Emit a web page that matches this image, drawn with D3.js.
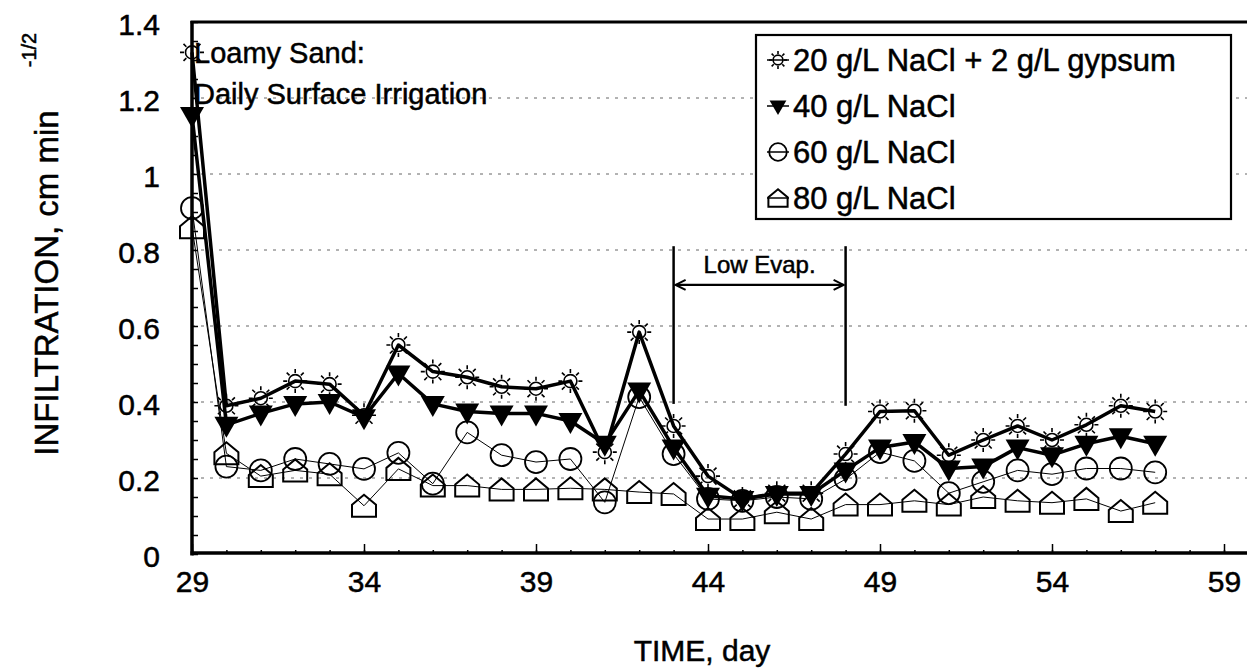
<!DOCTYPE html>
<html>
<head>
<meta charset="utf-8">
<script src="https://cdn.jsdelivr.net/npm/d3@7"></script>
<style>
  html, body { margin: 0; padding: 0; background: #fff; }
  svg { display: block; font-family: "Liberation Sans", Arial, Helvetica, sans-serif; }
  svg text { fill: #000; stroke: #000; stroke-width: 0.5px; }
</style>
</head>
<body>
<svg id="chart" width="1247" height="672"></svg>
<script>
// Days of irrigation
const days = d3.range(29, 58);

// Infiltration rate (cm min^-1/2) for each irrigation water
const gypsum20 = [1.32, 0.39, 0.41, 0.455, 0.447, 0.365, 0.55, 0.48, 0.465, 0.44, 0.435, 0.455, 0.268, 0.584,
  0.337, 0.205, 0.145, 0.16, 0.16, 0.263, 0.375, 0.377, 0.26, 0.30, 0.337, 0.30, 0.34, 0.39, 0.375];
const nacl40 = [1.155, 0.34, 0.37, 0.395, 0.40, 0.36, 0.475, 0.395, 0.375, 0.37, 0.37, 0.35, 0.29, 0.43,
  0.28, 0.153, 0.145, 0.158, 0.158, 0.22, 0.28, 0.295, 0.225, 0.23, 0.28, 0.26, 0.29, 0.31, 0.29];
const nacl60 = [0.91, 0.23, 0.22, 0.25, 0.237, 0.224, 0.266, 0.185, 0.32, 0.26, 0.242, 0.25, 0.136, 0.413,
  0.263, 0.145, 0.14, 0.15, 0.145, 0.197, 0.268, 0.245, 0.16, 0.19, 0.22, 0.21, 0.225, 0.225, 0.215];
const nacl80 = [0.86, 0.265, 0.205, 0.22, 0.21, 0.127, 0.224, 0.18, 0.18, 0.17, 0.17, 0.173, 0.17, 0.163,
  0.158, 0.092, 0.092, 0.11, 0.092, 0.13, 0.13, 0.14, 0.13, 0.15, 0.14, 0.135, 0.145, 0.113, 0.135];

const seriesNames = ["20 g/L NaCl + 2 g/L gypsum", "40 g/L NaCl", "60 g/L NaCl", "80 g/L NaCl"];

// Axis ticks
const xTicks = [29, 34, 39, 44, 49, 54, 59];
const yTicks = [0, 0.2, 0.4, 0.6, 0.8, 1, 1.2, 1.4];
const yTickLabels = ["0", "0.2", "0.4", "0.6", "0.8", "1", "1.2", "1.4"];

// Low evaporation period (days)
const lowEvap = [43, 48];

const svg = d3.select("#chart");
const x = d3.scaleLinear().domain([29, 59]).range([192, 1224]);
const y = d3.scaleLinear().domain([0, 1.4]).range([554, 22]);
const plotRight = 1247;

// Horizontal grid
svg.append("g").selectAll("line")
  .data(yTicks.filter(v => v > 0 && v < 1.4))
  .join("line")
  .attr("x1", x(29)).attr("x2", plotRight)
  .attr("y1", d => y(d)).attr("y2", d => y(d))
  .attr("stroke", "#666").attr("stroke-width", 1)
  .attr("stroke-dasharray", "3,6");

// Minor ticks (inside the frame)
svg.append("g").attr("transform", `translate(${x(29)},0)`)
  .call(d3.axisRight(y).tickValues(d3.range(0, 1.4001, 0.05)).tickSize(6).tickFormat(""))
  .call(g => g.select(".domain").remove())
  .call(g => g.selectAll("line").attr("stroke", "#000").attr("stroke-width", 1.5));

svg.append("g").attr("transform", `translate(0,${y(0)})`)
  .call(d3.axisTop(x).tickValues(d3.range(29, 60)).tickSize(4).tickFormat(""))
  .call(g => g.select(".domain").remove())
  .call(g => g.selectAll("line").attr("stroke", "#000").attr("stroke-width", 1.5));

svg.append("g").attr("transform", `translate(0,${y(0)})`)
  .call(d3.axisTop(x).tickValues(xTicks).tickSize(10).tickFormat(""))
  .call(g => g.select(".domain").remove())
  .call(g => g.selectAll("line").attr("stroke", "#000").attr("stroke-width", 1.5));

// Tick labels
svg.append("g").attr("transform", `translate(${x(29)},0)`)
  .call(d3.axisLeft(y).tickValues(yTicks).tickSize(0).tickPadding(32)
    .tickFormat((d, i) => yTickLabels[i]))
  .call(g => g.select(".domain").remove())
  .call(g => g.selectAll("text").attr("font-size", 30).attr("fill", "#000")
    .attr("font-family", "Liberation Sans, Arial, sans-serif").attr("dy", "0.42em"));

svg.append("g").attr("transform", `translate(0,${y(0)})`)
  .call(d3.axisBottom(x).tickValues(xTicks).tickSize(0).tickPadding(17).tickFormat(d3.format("d")))
  .call(g => g.select(".domain").remove())
  .call(g => g.selectAll("text").attr("font-size", 30).attr("fill", "#000")
    .attr("font-family", "Liberation Sans, Arial, sans-serif"));

// Frame
const frame = svg.append("g").attr("stroke", "#000").attr("fill", "none");
frame.append("line").attr("x1", x(29)).attr("x2", x(29)).attr("y1", y(1.4) - 1).attr("y2", y(0) + 1.5).attr("stroke-width", 3.5);
frame.append("line").attr("x1", x(29) - 1.5).attr("x2", plotRight).attr("y1", y(1.4)).attr("y2", y(1.4)).attr("stroke-width", 3);
frame.append("line").attr("x1", x(29) - 1.5).attr("x2", plotRight).attr("y1", y(0) - 1).attr("y2", y(0) - 1).attr("stroke-width", 3.5);

// Marker shapes
function sunMarker(g, s) {
  g.append("circle").attr("r", 6.5 * s).attr("fill", "none").attr("stroke", "#000").attr("stroke-width", 1.6);
  let p = "";
  for (let k = 0; k < 8; k++) {
    const a = k * Math.PI / 4;
    p += `M${(8 * s * Math.cos(a)).toFixed(2)},${(8 * s * Math.sin(a)).toFixed(2)}L${(12 * s * Math.cos(a)).toFixed(2)},${(12 * s * Math.sin(a)).toFixed(2)}`;
  }
  g.append("path").attr("d", p).attr("stroke", "#000").attr("stroke-width", 1.6);
}
function triMarker(g, s) {
  g.append("path").attr("d", `M${-12 * s},${-8 * s}L${12 * s},${-8 * s}L0,${13 * s}Z`).attr("fill", "#000");
}
function circMarker(g, s) {
  g.append("circle").attr("r", 11 * s).attr("fill", "none").attr("stroke", "#000").attr("stroke-width", 1.8);
}
function houseMarker(g, s) {
  g.append("path").attr("d", `M${-12 * s},${-1 * s}L0,${-11 * s}L${12 * s},${-1 * s}L${12 * s},${11 * s}L${-12 * s},${11 * s}Z`)
    .attr("fill", "none").attr("stroke", "#000").attr("stroke-width", 2);
}

const series = [
  { name: seriesNames[3], values: nacl80, width: 1, marker: houseMarker },
  { name: seriesNames[2], values: nacl60, width: 1, marker: circMarker },
  { name: seriesNames[1], values: nacl40, width: 3.5, marker: triMarker },
  { name: seriesNames[0], values: gypsum20, width: 3.5, marker: sunMarker }
];

const line = d3.line().x((d, i) => x(days[i])).y(d => y(d));

series.forEach(s => {
  svg.append("path").datum(s.values).attr("d", line)
    .attr("fill", "none").attr("stroke", "#000").attr("stroke-width", s.width)
    .attr("stroke-linejoin", "round");
});
series.forEach(s => {
  svg.append("g").selectAll("g").data(s.values).join("g")
    .attr("transform", (d, i) => `translate(${x(days[i])},${y(d)})`)
    .each(function () { s.marker(d3.select(this), 1); });
});

// Low evaporation annotation
const ann = svg.append("g").attr("stroke", "#000").attr("fill", "none");
ann.append("line").attr("x1", x(lowEvap[0])).attr("x2", x(lowEvap[0])).attr("y1", y(0.81)).attr("y2", y(0.395)).attr("stroke-width", 2.5);
ann.append("line").attr("x1", x(lowEvap[1])).attr("x2", x(lowEvap[1])).attr("y1", y(0.81)).attr("y2", y(0.39)).attr("stroke-width", 2.5);
const ay = y(0.708);
ann.append("line").attr("x1", x(lowEvap[0]) + 2).attr("x2", x(lowEvap[1]) - 2).attr("y1", ay).attr("y2", ay).attr("stroke-width", 2.2);
ann.append("path").attr("d", `M${x(lowEvap[0]) + 12},${ay - 5}L${x(lowEvap[0]) + 2},${ay}L${x(lowEvap[0]) + 12},${ay + 5}`).attr("stroke-width", 2);
ann.append("path").attr("d", `M${x(lowEvap[1]) - 12},${ay - 5}L${x(lowEvap[1]) - 2},${ay}L${x(lowEvap[1]) - 12},${ay + 5}`).attr("stroke-width", 2);
svg.append("text").attr("x", (x(lowEvap[0]) + x(lowEvap[1])) / 2).attr("y", y(0.74))
  .attr("text-anchor", "middle").attr("font-size", 24).text("Low Evap.");

// Site description
svg.append("text").attr("x", 194).attr("y", 63).attr("font-size", 29).text("Loamy Sand:");
svg.append("text").attr("x", 194).attr("y", 104).attr("font-size", 29).text("Daily Surface Irrigation");

// Legend
const legend = svg.append("g");
legend.append("rect").attr("x", 756).attr("y", 35).attr("width", 475).attr("height", 184)
  .attr("fill", "#fff").attr("stroke", "#000").attr("stroke-width", 2.2);
const legendOrder = [
  { name: seriesNames[0], marker: sunMarker, s: 0.75 },
  { name: seriesNames[1], marker: triMarker, s: 0.7 },
  { name: seriesNames[2], marker: circMarker, s: 0.8 },
  { name: seriesNames[3], marker: houseMarker, s: 0.8 }
];
legendOrder.forEach((d, i) => {
  const cy = 60 + i * 46;
  const g = legend.append("g").attr("transform", `translate(778,${cy})`);
  g.append("line").attr("x1", -11).attr("x2", 11).attr("stroke", "#000").attr("stroke-width", 1.5);
  d.marker(g, d.s);
  legend.append("text").attr("x", 793).attr("y", cy + 11).attr("font-size", 31).text(d.name);
});

// Axis titles
svg.append("text").attr("x", 702).attr("y", 661).attr("text-anchor", "middle").attr("font-size", 30).text("TIME, day");
svg.append("text").attr("transform", "translate(58,283) rotate(-90)").attr("text-anchor", "middle")
  .attr("font-size", 33).text("INFILTRATION, cm min");
svg.append("text").attr("transform", "translate(36,50) rotate(-90)").attr("text-anchor", "middle")
  .attr("font-size", 20).text("-1/2");
</script>
</body>
</html>
